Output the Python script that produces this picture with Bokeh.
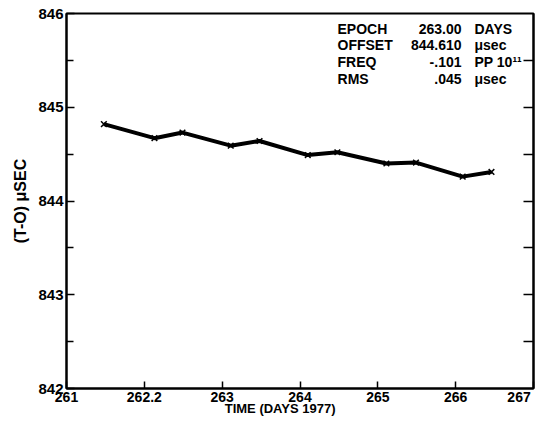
from bokeh.plotting import figure
from bokeh.models import FixedTicker, Range1d, Label, LinearAxis
from bokeh.embed import file_html
from bokeh.resources import INLINE

# data
days = [261.48, 262.13, 262.49, 263.11, 263.48, 264.10, 264.48, 265.11, 265.49, 266.09, 266.46]
offset_usec = [844.82, 844.67, 844.73, 844.59, 844.64, 844.49, 844.52, 844.40, 844.41, 844.26, 844.31]

x_ticks = [261, 262, 263, 264, 265, 266, 267]
x_tick_labels = ["261", "262.2", "263", "264", "265", "266", "267"]
x_title = "TIME (DAYS 1977)"
y_title = "(T-O) μSEC"
y_ticks = [842, 843, 844, 845, 846]
y_minor = [842.5, 843.5, 844.5, 845.5]

info_names = ["EPOCH", "OFFSET", "FREQ", "RMS"]
info_values = ["263.00", "844.610", "-.101", ".045"]
info_units = ["DAYS", "μsec", "PP 10¹¹", "μsec"]

FONT = "Liberation Sans"
NBSP = "\u00a0"
X0, X1, Y0, Y1 = 261, 267, 842, 846

p = figure(width=538, height=418, output_backend="svg", toolbar_location=None,
           x_range=Range1d(X0, X1), y_range=Range1d(Y0, Y1),
           min_border_left=66, min_border_right=5, min_border_top=13, min_border_bottom=29)
p.grid.visible = False
p.background_fill_color = "white"
p.border_fill_color = "white"
p.outline_line_color = "black"
p.outline_line_width = 2

# left axis
ya = p.yaxis[0]
ya.ticker = FixedTicker(ticks=y_ticks, minor_ticks=y_minor)
ya.major_tick_in = 8
ya.major_tick_out = 0
ya.minor_tick_in = 7
ya.minor_tick_out = 0
ya.major_tick_line_width = 1.5
ya.minor_tick_line_width = 1.5
ya.axis_line_width = 2
ya.major_label_standoff = 3
ya.major_label_text_font = FONT
ya.major_label_text_font_style = "bold"
ya.major_label_text_font_size = "15px"
ya.major_label_text_color = "black"
ya.axis_label = y_title
ya.axis_label_text_font = FONT
ya.axis_label_text_font_style = "bold"
ya.axis_label_text_font_size = "16px"
ya.axis_label_text_color = "black"
ya.axis_label_standoff = 6

# right axis: inward ticks only (all as minor ticks, so no labels)
right_ticks = sorted(y_ticks[1:-1] + y_minor)
ra = LinearAxis(ticker=FixedTicker(ticks=[], minor_ticks=right_ticks))
ra.major_tick_in = 0
ra.major_tick_out = 0
ra.minor_tick_in = 10
ra.minor_tick_out = 0
ra.minor_tick_line_width = 1.5
ra.axis_line_width = 2
p.add_layout(ra, "right")

# bottom axis
xa = p.xaxis[0]
xa.ticker = FixedTicker(ticks=x_ticks)
labels = dict(zip(x_ticks, x_tick_labels))
labels[x_ticks[-1]] = x_tick_labels[-1] + NBSP * 2   # keep the last label inside the canvas
xa.major_label_overrides = labels
xa.major_tick_in = 7
xa.major_tick_out = 0
xa.minor_tick_in = 0
xa.minor_tick_out = 0
xa.major_tick_line_width = 1.5
xa.axis_line_width = 2
xa.major_label_standoff = 0
xa.major_label_text_font = FONT
xa.major_label_text_font_style = "bold"
xa.major_label_text_font_size = "14px"
xa.major_label_text_color = "black"
# title sits left of centre in the original
xa.axis_label = x_title + NBSP * 11
xa.axis_label_text_font = FONT
xa.axis_label_text_font_style = "bold"
xa.axis_label_text_font_size = "13px"
xa.axis_label_text_color = "black"
xa.axis_label_standoff = -7

# series
p.line(days, offset_usec, line_color="black", line_width=4)
p.scatter(days, offset_usec, marker="x", size=8, line_color="black", line_width=1.5)

# fit info block
row_y = [845.84, 845.66, 845.479, 845.298]
for name, val, unit, yy in zip(info_names, info_values, info_units, row_y):
    for txt, xx, al in ((name, 264.482, "left"), (val, 266.075, "right"), (unit, 266.242, "left")):
        p.add_layout(Label(x=xx, y=yy, text=txt, text_align=al, text_baseline="middle",
                           text_font=FONT, text_font_style="bold", text_font_size="14px",
                           text_color="black"))

open("out.html", "w").write(file_html(p, INLINE))
